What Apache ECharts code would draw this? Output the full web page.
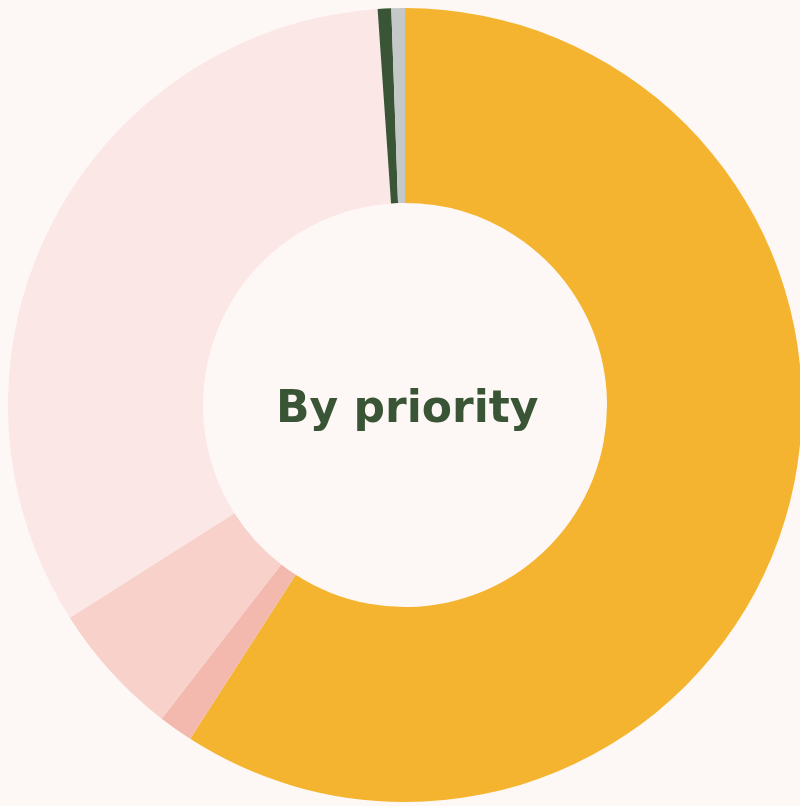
<!DOCTYPE html>
<html>
<head>
<meta charset="utf-8">
<script src="https://cdn.jsdelivr.net/npm/echarts@6/dist/echarts.min.js"></script>
<style>
html,body{margin:0;padding:0;background:#FDF8F5;}
#chart{width:800px;height:806px;}
</style>
</head>
<body>
<div id="chart"></div>
<script>
const categories = ["Medium", "High", "Urgent", "Low", "None", "Unknown"];
const values = [59.1, 1.4, 5.5, 32.9, 0.55, 0.55];
const colors = ["#F4B42F", "#F3B8AE", "#F7D1CA", "#FBE7E5", "#3A5535", "#C4C8C8"];
const centerLabel = "By priority";

const chart = echarts.init(document.getElementById('chart'), null, {renderer: 'canvas'});
chart.setOption({
  backgroundColor: '#FDF8F5',
  animation: false,
  graphic: [{
    type: 'text',
    left: 276,
    top: 389,
    style: {
      text: centerLabel,
      fill: '#3A5535',
      font: 'bold 44px "DejaVu Sans"'
    }
  }],
  series: [{
    type: 'pie',
    center: [405, 405],
    radius: [202, 397],
    startAngle: 90,
    clockwise: true,
    silent: true,
    label: {show: false},
    labelLine: {show: false},
    itemStyle: {borderWidth: 0},
    data: categories.map((c, i) => ({name: c, value: values[i], itemStyle: {color: colors[i]}}))
  }]
});
</script>
</body>
</html>
